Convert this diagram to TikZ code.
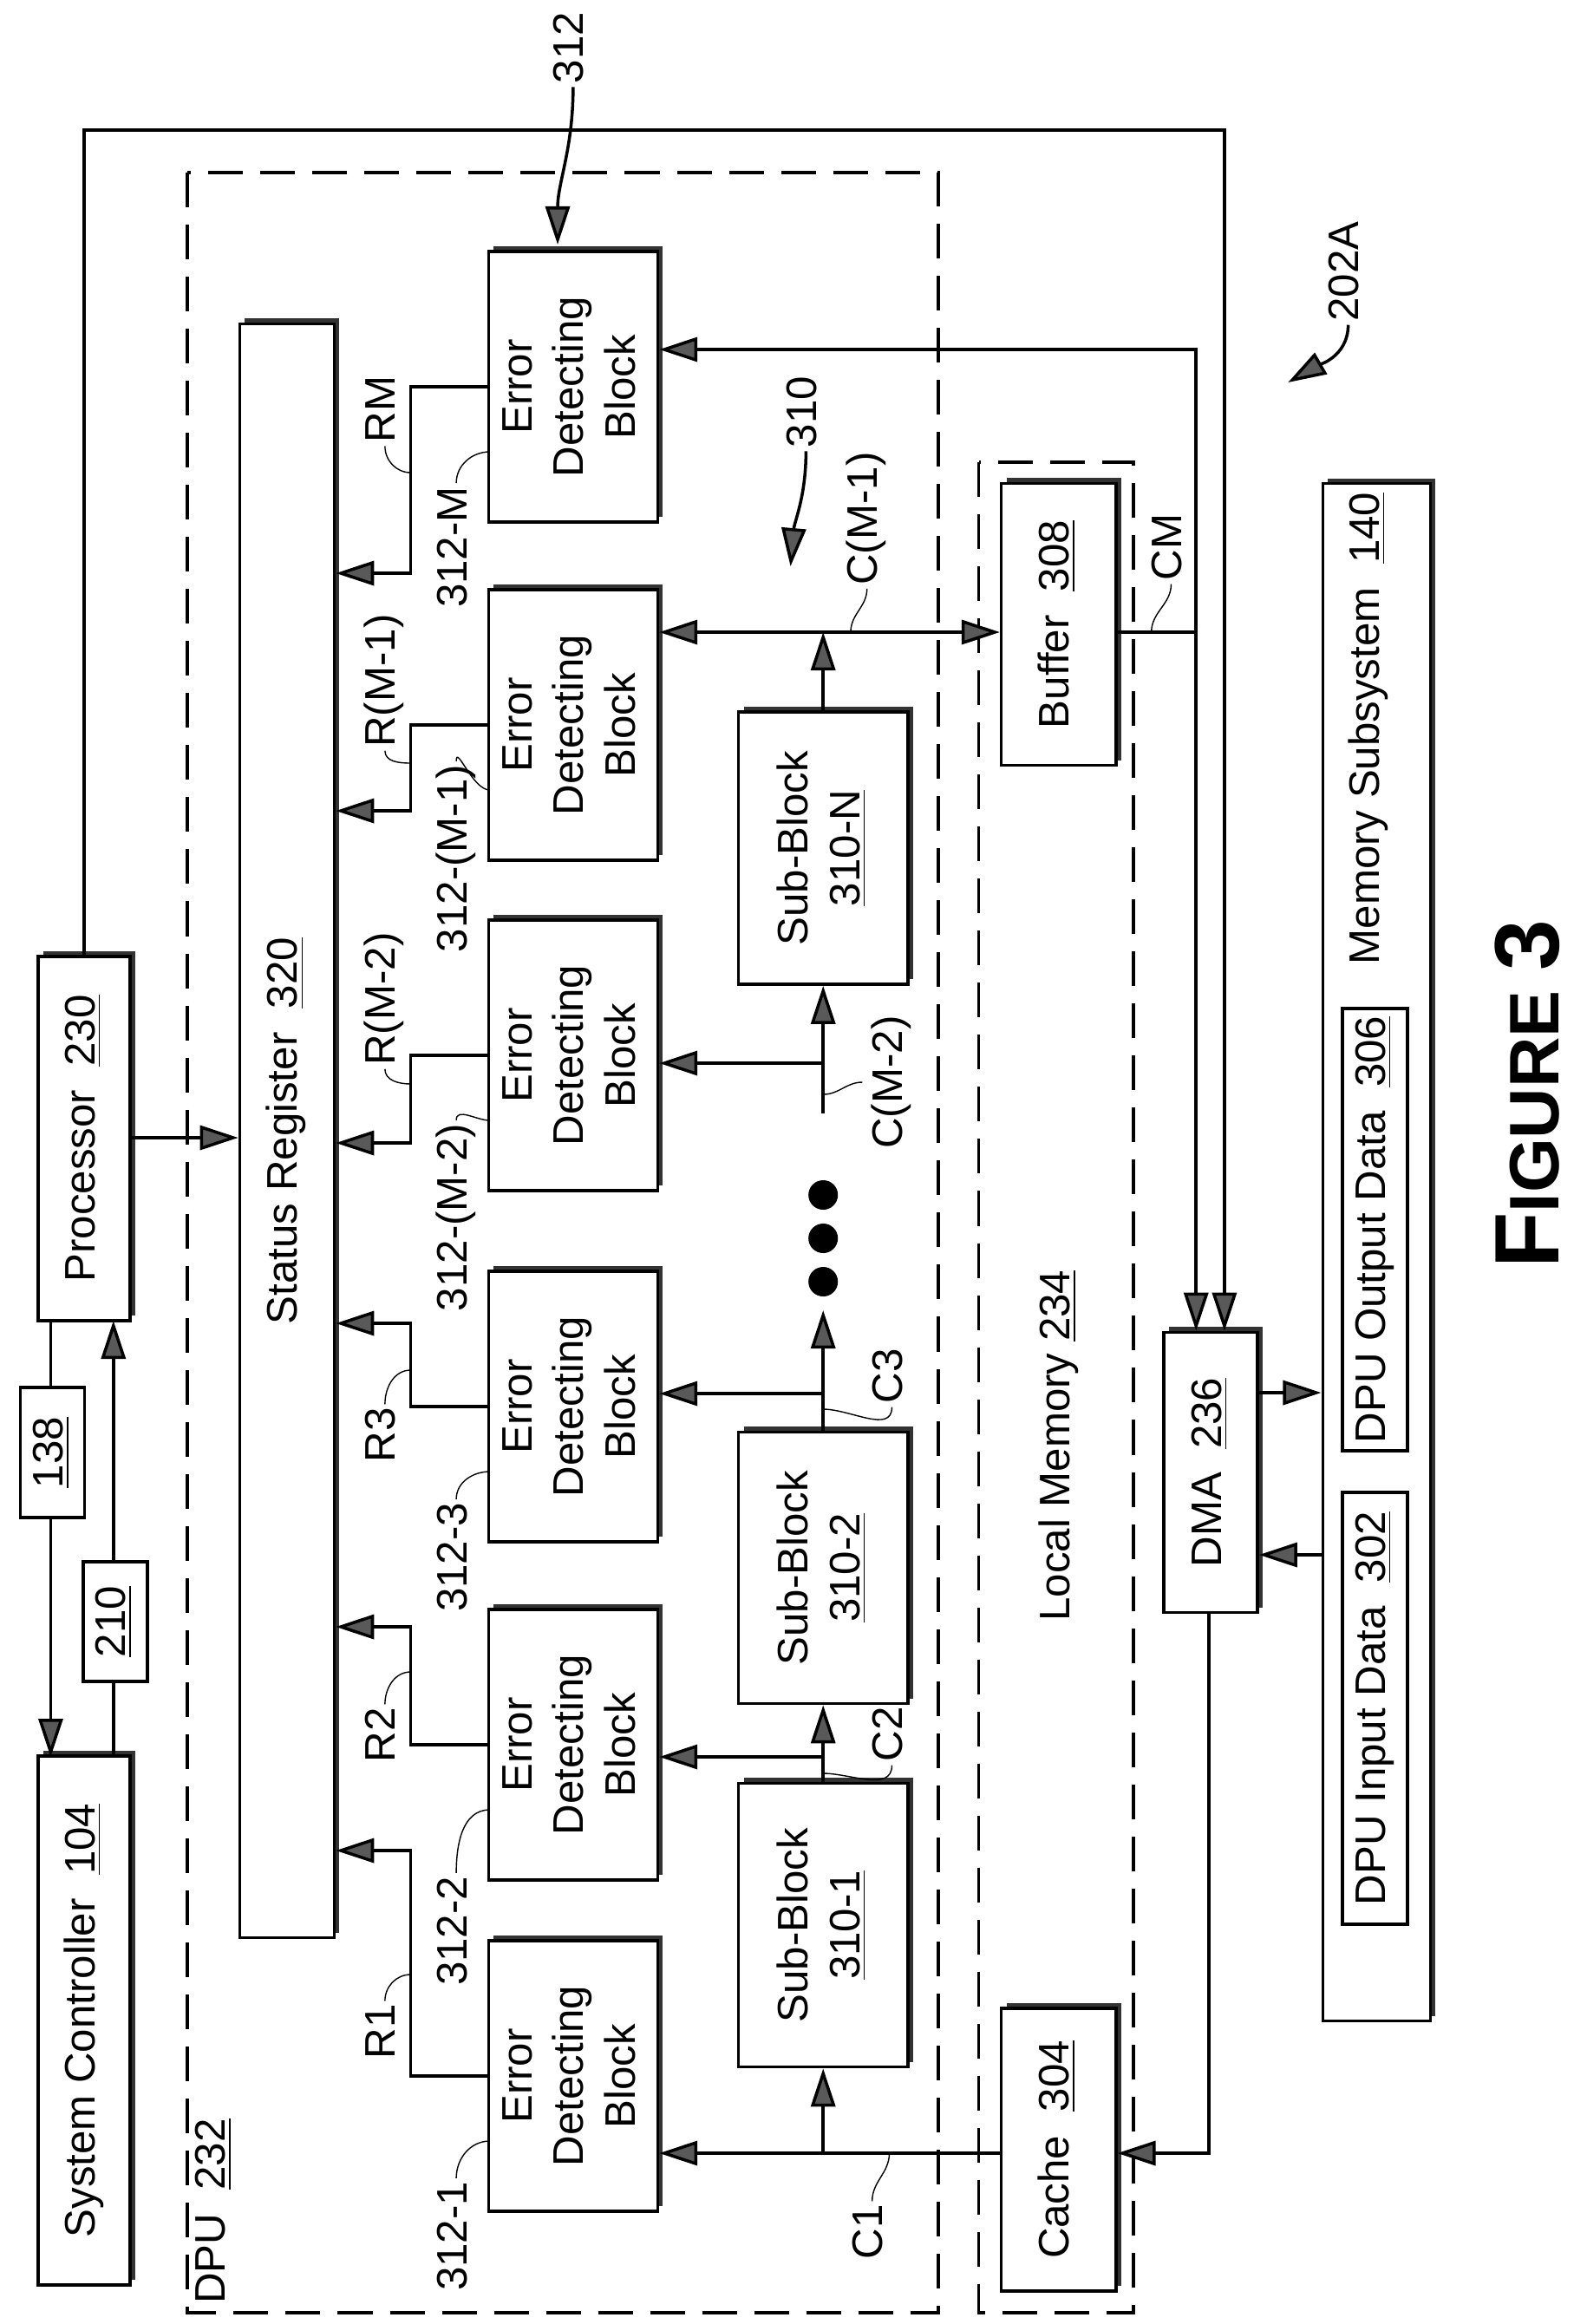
\documentclass[tikz,border=0pt]{standalone}
\usepackage{fontspec}
\setmainfont{Liberation Sans}
\usetikzlibrary{arrows.meta,shadows}
\newcommand\fs{\fontsize{14}{17}\selectfont}
\newcommand\rt[1]{\rotatebox{90}{\begin{tabular}{@{}c@{}}#1\end{tabular}}}
\tikzset{%
  box/.style={draw,line width=1pt,fill=white,inner sep=0pt,font=\fs},
  shd/.style={box,drop shadow={shadow xshift=0.06cm,shadow yshift=0.06cm,fill=black!80,opacity=1}},
  tip/.tip={Triangle[length=0.44cm,width=0.28cm,fill=gray!70!black]},
  arr/.style={line width=1pt,-tip},
  darr/.style={line width=1pt,tip-tip},
  lbl/.style={font=\fs,inner sep=1pt},
  ld/.style={thin},
  dsh/.style={line width=1pt,dash pattern=on 0.4cm off 0.2cm}
}

\begin{document}
\begin{tikzpicture}[x=0.0099cm,y=-0.01cm]
    \useasboundingbox (0,0) rectangle (1846,2680);
    % dashed groups
    \draw[dsh] (218,199) rectangle (1092,2667);
    \draw[dsh] (1139,533) rectangle (1319,2667);
    \node[lbl] (dpu) at (250,2550) {\rt{DPU\ \ \underline{232}}};
    \node[lbl] (lm) at (1233,1667) {\rt{Local Memory \underline{234}}};
    %
    \node[shd,minimum width=1.06cm,minimum height=6.1cm] (sc) at (98,2330)
      {\rt{System Controller\ \ \underline{104}}};
    \node[shd,minimum width=1.06cm,minimum height=4.2cm] (proc) at (98,1313)
      {\rt{Processor\ \ \underline{230}}};
    \node[shd,minimum width=1.09cm,minimum height=18.6cm] (sr) at (334,1304)
      {\rt{Status Register\ \ \underline{320}}};
    \coordinate (p1) at (59,1523);  \coordinate (s1) at (59,2026);
    \coordinate (p2) at (132,1523); \coordinate (s2) at (132,2026);
    \draw[arr] (p1) -- (s1);
    \draw[arr] (s2) -- (p2);
    \node[box,minimum width=0.74cm,minimum height=1.5cm] (b138) at (61,1675) {\rt{\underline{138}}};
    \node[box,minimum width=0.74cm,minimum height=1.38cm] (b210) at (134,1870) {\rt{\underline{210}}};
    \draw[arr] (proc.east |- 0,1312) -- (sr.west |- 0,1312);
    %
    \foreach \n/\yc/\ra/\ca/\id/\idy/\rl/\rly in {
        1/2394/2134/2483/312-1/2579/R1/2343,
        2/2012/1876/2026/312-2/2227/R2/2001,
        3/1622/1526/1607/312-3/1796/R3/1655,
        4/1217/1318/1226/312-(M-2)/1404/R(M-2)/1152,
        5/836/935/729/312-(M-1)/990/R(M-1)/785,
        6/446/661/403/312-M/631/RM/472} {
      \node[shd,minimum width=1.95cm,minimum height=3.12cm] (e\n) at (667,\yc)
        {\rt{Error\\Detecting\\Block}};
      \coordinate (k\n) at (478,\yc);
      \coordinate (a\n) at (478,\ra);
      \draw[arr] (e\n.west |- k\n) -- (k\n) -- (a\n) -- (sr.east |- a\n);
      \node[lbl] (id\n) at (531,\idy) {\rt{\id}};
      \draw[ld] (id\n.north) to[out=90,in=180] (570,\yc+75);
      \node[lbl] (rl\n) at (448,\rly) {\rt{\rl}};
      \coordinate (c\n) at (958,\ca);
    }
    \draw[ld] (rl1.north) to[out=90,in=180] (478,2277);
    \draw[ld] (rl2.north) to[out=90,in=180] (478,1928);
    \draw[ld] (rl3.north) to[out=90,in=180] (478,1580);
    \draw[ld] (rl4.south) to[out=-90,in=180] (478,1250);
    \draw[ld] (rl5.south) to[out=-90,in=180] (478,880);
    \draw[ld] (rl6.south) to[out=-90,in=180] (478,545);
    %
    \node[shd,minimum width=1.95cm,minimum height=3.27cm] (sb1) at (958,2220)
      {\rt{Sub-Block\\\underline{310-1}}};
    \node[shd,minimum width=1.95cm,minimum height=3.13cm] (sb2) at (958,1808)
      {\rt{Sub-Block\\\underline{310-2}}};
    \node[shd,minimum width=1.95cm,minimum height=3.14cm] (sbn) at (958,978)
      {\rt{Sub-Block\\\underline{310-N}}};
    \node[shd,minimum width=1.32cm,minimum height=3.25cm] (buf) at (1232,720)
      {\rt{Buffer\ \ \underline{308}}};
    \node[shd,minimum width=1.32cm,minimum height=3.26cm] (cache) at (1232,2479)
      {\rt{Cache\ \ \underline{304}}};
    \node[shd,minimum width=1.08cm,minimum height=3.23cm] (dma) at (1409,1698)
      {\rt{DMA\ \ \underline{236}}};
    \node[shd,minimum width=1.24cm,minimum height=17.72cm] (mem) at (1602,1444) {};
    \node[lbl] (memt) at (1593,840) {\rt{Memory Subsystem\ \ \underline{140}}};
    \node[box,minimum width=0.75cm,minimum height=5.1cm] (out) at (1600,1418)
      {\rt{DPU Output Data\ \ \underline{306}}};
    \node[box,minimum width=0.75cm,minimum height=4.98cm] (in) at (1600,1970)
      {\rt{DPU Input Data\ \ \underline{302}}};
    % data paths
    \coordinate (j1) at (958,2483);
    \draw[arr] (cache.west |- j1) -- (e1.east |- j1);
    \draw[arr] (j1) -- (sb1.south);
    \draw[arr] (sb1.north) -- (sb2.south);
    \draw[arr] (c2) -- (e2.east |- c2);
    \draw[arr] (sb2.north) -- (958,1511);
    \draw[arr] (c3) -- (e3.east |- c3);
    \foreach \d in {1378,1428,1478} \fill (958,\d) circle (0.17cm);
    \draw[arr] (958,1284) -- (sbn.south);
    \draw[arr] (c4) -- (e4.east |- c4);
    \draw[darr] (e5.east |- c5) -- (buf.west |- c5);
    \draw[arr] (sbn.north) -- (c5);
    \coordinate (q1) at (1392,403);
    \coordinate (q2) at (1425,150);
    \draw[darr] (e6.east |- q1) -- (q1) -- (dma.north -| q1);
    \draw[arr] (proc.north -| 98,0) -- (98,150) -- (q2) -- (dma.north -| q2);
    \draw[line width=1pt] (buf.east |- c5) -- (q1 |- c5);
    \draw[arr] (dma.south -| 1407,0) -- (1407,2483) -- (cache.east |- 0,2483);
    \draw[arr] (dma.east |- 0,1606) -- (mem.west |- 0,1606);
    \draw[arr] (mem.west |- 0,1793) -- (dma.east |- 0,1793);
    % signal labels
    \node[lbl] (lc1) at (1015,2574) {\rt{C1}};
    \draw[ld] (lc1.north) to[out=90,in=-90] (1035,2483);
    \node[lbl] (lc2) at (1038,2000) {\rt{C2}};
    \draw[ld] (lc2.south) to[out=-90,in=0] (958,2045);
    \node[lbl] (lc3) at (1038,1587) {\rt{C3}};
    \draw[ld] (lc3.south) to[out=-90,in=0] (958,1625);
    \node[lbl] (lc4) at (1038,1248) {\rt{C(M-2)}};
    \draw[ld] (lc4.west) to[out=180,in=0] (958,1262);
    \node[lbl] (lc5) at (1009,598) {\rt{C(M-1)}};
    \draw[ld] (lc5.south) to[out=-90,in=90] (990,729);
    \node[lbl] (lcm) at (1363,631) {\rt{CM}};
    \draw[ld] (lcm.south) to[out=-90,in=90] (1340,729);
    % reference arrows
    \node[lbl] (l312) at (667,55) {\rt{312}};
    \draw[arr] (l312.south) to[out=-90,in=90] (649,282);
    \node[lbl] (l310) at (938,475) {\rt{310}};
    \draw[arr] (l310.south) to[out=-90,in=85] (920,653);
    \node[lbl] (l202) at (1569,313) {\rt{202A}};
    \draw[arr] (l202.south) to[out=-90,in=30] (1499,441);
    \node[font=\bfseries] (fig) at (1778,1262)
      {\rotatebox{90}{\fontsize{30}{30}\selectfont F\fontsize{23}{23}\selectfont IGURE \fontsize{30}{30}\selectfont 3}};
\end{tikzpicture}
\end{document}
